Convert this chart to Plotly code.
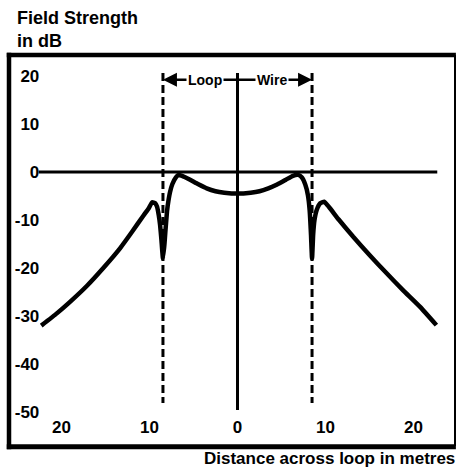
import plotly.graph_objects as go

# ---- data ----
distance_m = [-22.3, -20.5, -19.0, -17.1, -15.2, -13.35, -12.0, -10.7, -10.1, -9.7,
              -9.35, -9.15, -8.95, -8.8, -8.65, -8.47, -8.3, -8.2, -8.0, -7.85,
              -7.67, -7.4, -7.0, -6.7, -6.3, -5.5, -4.5, -3.5, -2.5, -1.5,
              0.0, 1.5, 2.5, 3.5, 4.5, 5.5, 6.3, 6.9, 7.3, 7.7,
              8.0, 8.2, 8.35, 8.47, 8.6, 8.75, 9.0, 9.4, 9.85, 10.4,
              11.5, 13.15, 15.0, 16.95, 18.8, 20.75, 22.6]
field_db = [-32.0, -29.4, -27.0, -23.7, -19.9, -15.9, -12.5, -9.1, -7.6, -6.3,
            -6.5, -7.2, -9.0, -11.0, -14.0, -18.0, -15.0, -12.5, -8.0, -6.0,
            -4.2, -2.5, -1.1, -0.6, -0.8, -1.5, -2.5, -3.4, -4.0, -4.3,
            -4.5, -4.3, -4.0, -3.4, -2.6, -1.6, -0.8, -0.6, -1.1, -2.6,
            -4.8, -8.0, -13.0, -18.0, -13.0, -10.0, -7.9, -6.5, -6.2, -7.3,
            -9.9, -13.5, -17.3, -21.1, -24.6, -28.1, -31.9]

x_tick_vals = [-20, -10, 0, 10, 20]
x_tick_text = ["20", "10", "0", "10", "20"]
y_tick_vals = [20, 10, 0, -10, -20, -30, -40, -50]
y_tick_text = ["20", "10", "0", "-10", "-20", "-30", "-40", "-50"]

loop_edge = 8.47          # loop wire position (m)
label_y = 19.2            # level of the Loop / Wire annotation
FONT = "Liberation Sans"

fig = go.Figure()
fig.add_trace(go.Scatter(
    x=distance_m, y=field_db, mode="lines",
    line=dict(color="black", width=4.5, shape="spline", smoothing=0.4),
    hoverinfo="skip",
))

shapes = [
    # zero dB reference line
    dict(type="line", xref="x", yref="y", x0=-22.6, x1=22.7, y0=0, y1=0,
         line=dict(color="black", width=3), layer="below"),
    # centre line
    dict(type="line", xref="x", yref="y", x0=0, x1=0, y0=20.6, y1=-49.6,
         line=dict(color="black", width=3), layer="below"),
    # loop wire dashed lines
    dict(type="line", xref="x", yref="y", x0=-loop_edge, x1=-loop_edge, y0=20.6, y1=-48.1,
         line=dict(color="black", width=3, dash="8px,4px"), layer="below"),
    dict(type="line", xref="x", yref="y", x0=loop_edge, x1=loop_edge, y0=20.6, y1=-48.1,
         line=dict(color="black", width=3, dash="8px,4px"), layer="below"),
    # Loop / Wire span line
    dict(type="line", xref="x", yref="y", x0=-loop_edge + 0.6, x1=loop_edge - 0.6,
         y0=label_y, y1=label_y, line=dict(color="black", width=2.5), layer="below"),
    # frame
    dict(type="line", xref="paper", yref="paper", x0=0, x1=0, y0=-0.008, y1=1.006,
         line=dict(color="black", width=4.5)),
    dict(type="line", xref="paper", yref="paper", x0=-0.005, x1=1.002, y0=1, y1=1,
         line=dict(color="black", width=4.5)),
    dict(type="line", xref="paper", yref="paper", x0=-0.005, x1=1.002, y0=-0.002, y1=-0.002,
         line=dict(color="black", width=5)),
    dict(type="line", xref="paper", yref="paper", x0=1, x1=1, y0=0, y1=1,
         line=dict(color="black", width=2)),
]

annotations = [
    dict(text="Loop", x=-3.75, y=label_y, xref="x", yref="y", showarrow=False,
         bgcolor="white", borderpad=1,
         font=dict(family=FONT, size=14, color="black", weight="bold")),
    dict(text="Wire", x=3.92, y=label_y, xref="x", yref="y", showarrow=False,
         bgcolor="white", borderpad=1,
         font=dict(family=FONT, size=14, color="black", weight="bold")),
    dict(text="", x=-loop_edge, y=label_y, ax=-7.0, ay=label_y, xref="x", yref="y",
         axref="x", ayref="y", showarrow=True, arrowhead=2, arrowsize=1.4,
         arrowwidth=2, arrowcolor="black"),
    dict(text="", x=loop_edge, y=label_y, ax=7.0, ay=label_y, xref="x", yref="y",
         axref="x", ayref="y", showarrow=True, arrowhead=2, arrowsize=1.4,
         arrowwidth=2, arrowcolor="black"),
    dict(text="Field Strength<br>in dB", x=0.013, y=1.125, xref="paper", yref="paper",
         xanchor="left", yanchor="top", align="left", showarrow=False,
         font=dict(family=FONT, size=18, color="black", weight="bold")),
    dict(text="Distance across loop in metres", x=1.005, y=-0.033,
         xref="paper", yref="paper", xanchor="right", yanchor="middle",
         showarrow=False,
         font=dict(family=FONT, size=17, color="black", weight="bold")),
]

fig.update_layout(
    width=458, height=475,
    margin=dict(l=9, r=3, t=55, b=29, autoexpand=False),
    paper_bgcolor="white", plot_bgcolor="white",
    showlegend=False,
    xaxis=dict(range=[-25.966, 24.716], showgrid=False, zeroline=False,
               showline=False, ticks="", tickvals=x_tick_vals, ticktext=x_tick_text,
               anchor="free", position=0.080, automargin=False, fixedrange=True,
               tickfont=dict(family=FONT, size=17, color="black", weight="bold")),
    yaxis=dict(range=[-57.08, 24.375], showgrid=False, zeroline=False,
               showline=False, ticks="", tickvals=y_tick_vals, ticktext=y_tick_text,
               anchor="free", position=0.068, automargin=False, fixedrange=True,
               tickfont=dict(family=FONT, size=17, color="black", weight="bold")),
    shapes=shapes,
    annotations=annotations,
)

# remove the browser's default page margin so the figure fills the window exactly
fig.write_html(
    "out.html",
    config={"displayModeBar": False},
    post_script="document.body.style.margin='0';document.body.style.overflow='hidden';",
)
